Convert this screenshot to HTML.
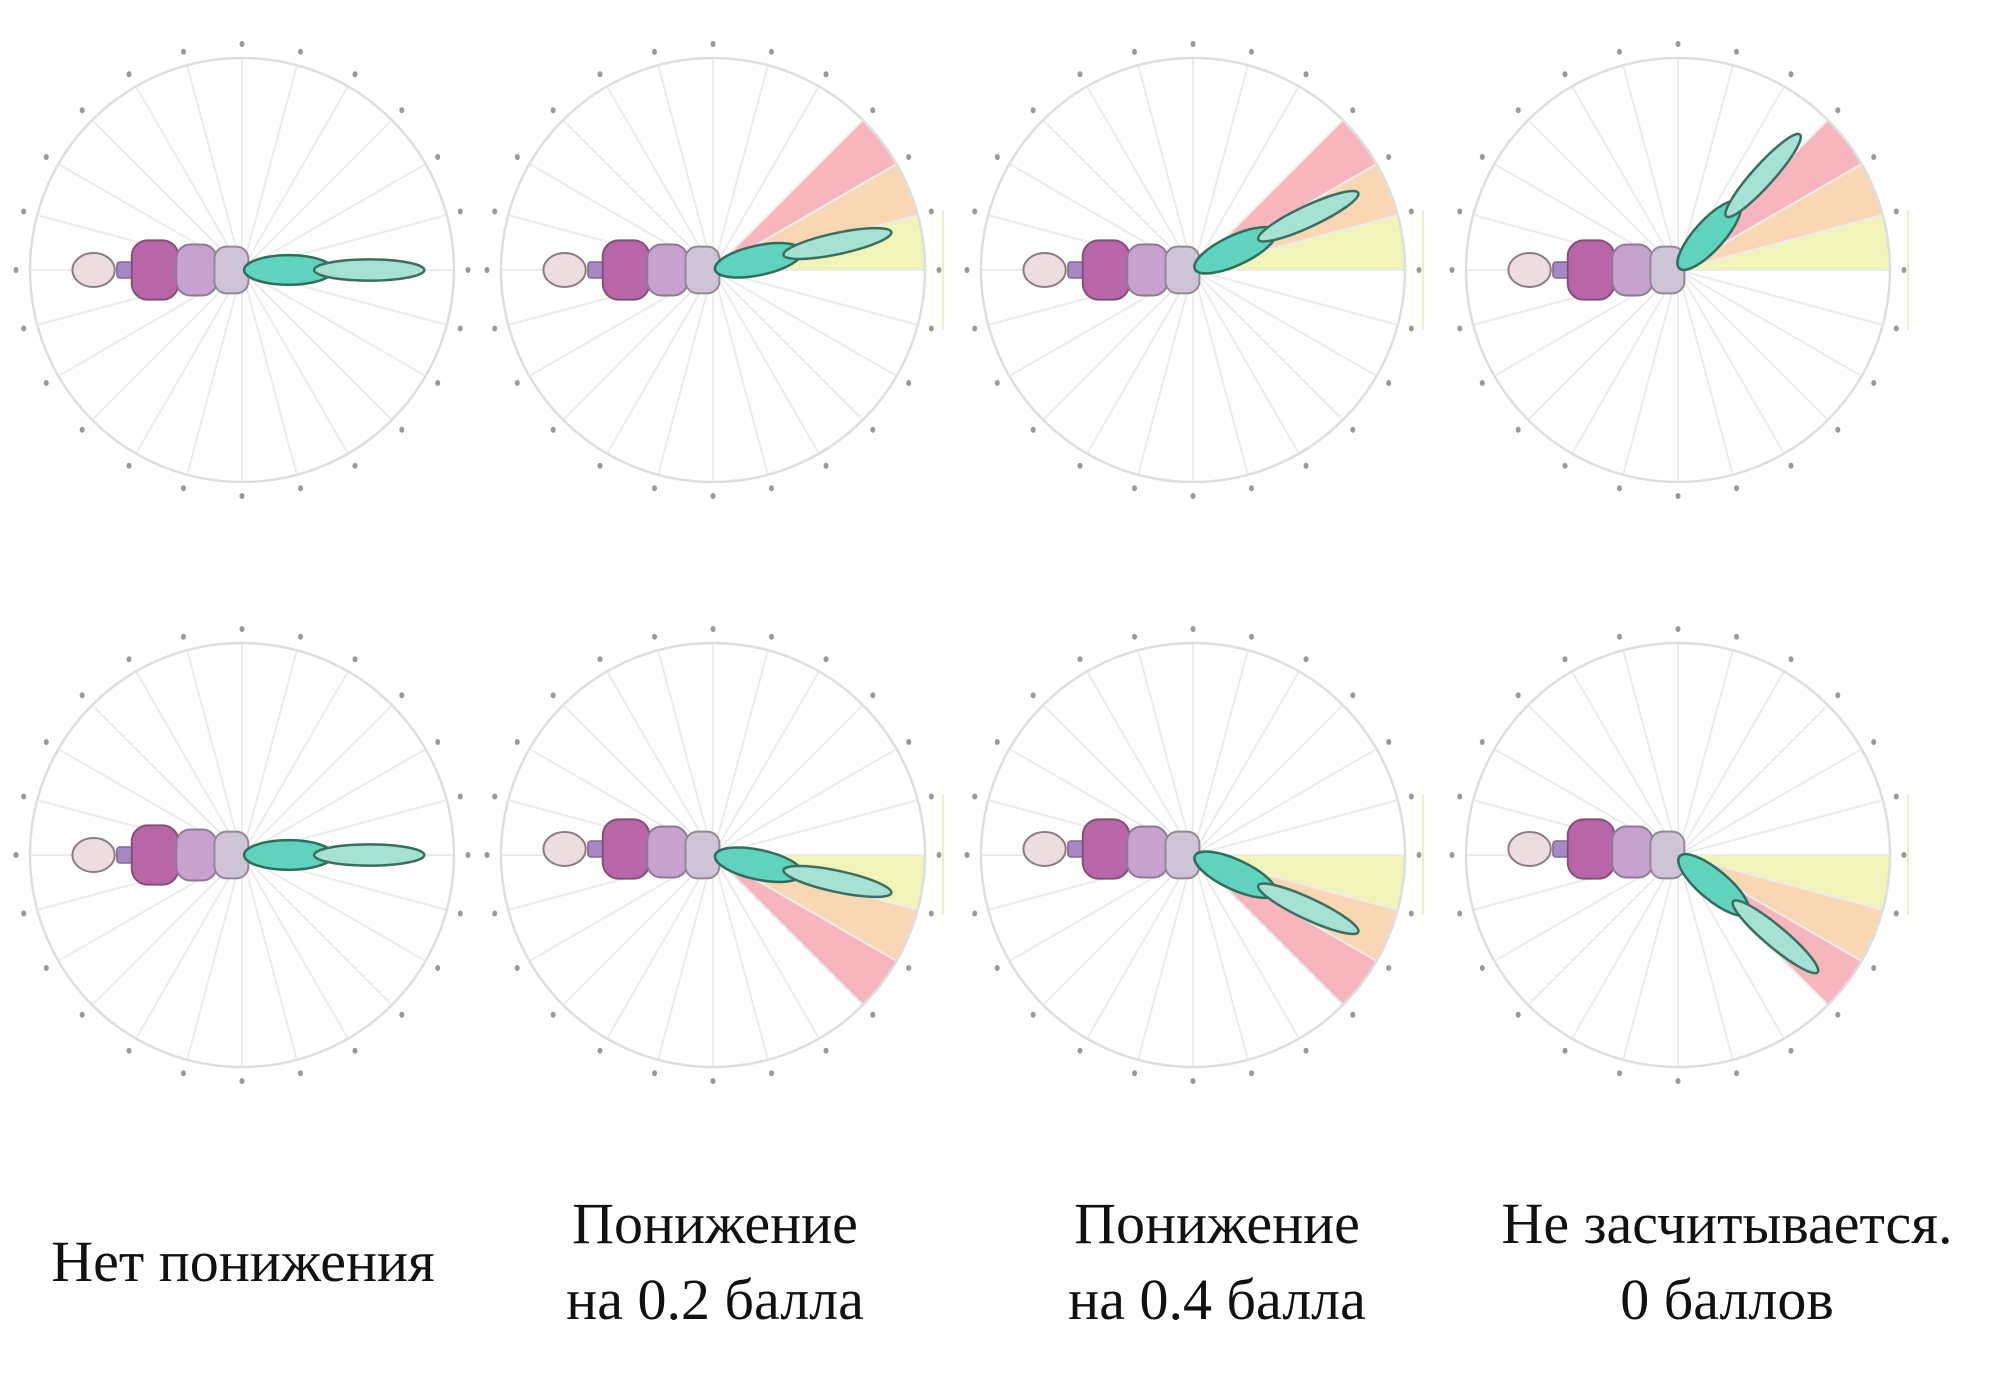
<!DOCTYPE html>
<html><head><meta charset="utf-8">
<style>
html,body{margin:0;padding:0;background:#fff;}
#wrap{position:relative;width:1996px;height:1375px;overflow:hidden;}
svg{position:absolute;left:0;top:0;}
.lab{position:absolute;font-family:"Liberation Serif",serif;font-size:58px;color:#111;text-align:center;line-height:76px;white-space:nowrap;transform:translateX(-50%);}
</style></head><body>
<div id="wrap">
<svg id="s" width="1996" height="1375" viewBox="0 0 1996 1375"></svg>
<div class="lab" style="left:243px;top:1224px;">Нет понижения</div>
<div class="lab" style="left:715px;top:1186px;">Понижение<br>на 0.2 балла</div>
<div class="lab" style="left:1217px;top:1186px;">Понижение<br>на 0.4 балла</div>
<div class="lab" style="left:1727px;top:1186px;">Не засчитывается.<br>0 баллов</div>
</div>
<script>
const s=document.getElementById('s');
const R=212;
const cols=[242,713,1193,1678], rows=[270,855];
const ang=[[0,12,25,48],[0,-12,-25,-40]];
let h='';
function rad(a){return a*Math.PI/180;}
function wedge(cx,cy,a1,a2,col){
  const x1=cx+R*Math.cos(rad(a1)),y1=cy-R*Math.sin(rad(a1));
  const x2=cx+R*Math.cos(rad(a2)),y2=cy-R*Math.sin(rad(a2));
  const sw=(a2>a1)?0:1;
  return `<path d="M${cx},${cy} L${x1},${y1} A${R},${R} 0 0 ${sw} ${x2},${y2} Z" fill="${col}"/>`;
}
for(let r=0;r<2;r++)for(let c=0;c<4;c++){
  const cx=cols[c],cy=rows[r],a=ang[r][c];
  if(c>0){
    const sg=r==0?1:-1;
    h+=wedge(cx,cy,0,15*sg,'#f1f3b8');
    h+=wedge(cx,cy,15*sg,30*sg,'#f9d7b5');
    h+=wedge(cx,cy,30*sg,45*sg,'#f7b5bd');
    h+=`<line x1="${cx+R+18}" y1="${cy-60}" x2="${cx+R+18}" y2="${cy+60}" stroke="#eef0c0" stroke-width="2"/>`;
  }
  for(let i=0;i<24;i++){
    const t=rad(i*15);
    h+=`<line x1="${cx}" y1="${cy}" x2="${cx+R*Math.cos(t)}" y2="${cy+R*Math.sin(t)}" stroke="#ececec" stroke-width="2"/>`;
    h+=`<ellipse cx="${cx+(R+14)*Math.cos(t)}" cy="${cy+(R+14)*Math.sin(t)}" rx="2.5" ry="3" fill="#999"/>`;
  }
  h+=`<circle cx="${cx}" cy="${cy}" r="${R}" fill="none" stroke="#dedede" stroke-width="2.5"/>`;
  const dy=r==1? (c>0?-6:0):0;
  h+=`<ellipse cx="${cx-0.70*R}" cy="${cy+dy}" rx="${0.1*R}" ry="${0.08*R}" fill="#ecdde0" stroke="#8a7b85" stroke-width="2"/>`;
  h+=`<rect x="${cx-0.59*R}" y="${cy+dy-8}" width="16" height="16" rx="3" fill="#a688c4" stroke="#7d6a90" stroke-width="1.5"/>`;
  h+=`<rect x="${cx-0.52*R}" y="${cy+dy-0.14*R}" width="${0.22*R}" height="${0.28*R}" rx="16" fill="#b966a8" stroke="#845078" stroke-width="2"/>`;
  h+=`<rect x="${cx-0.31*R}" y="${cy+dy*0.5-0.12*R}" width="${0.19*R}" height="${0.24*R}" rx="14" fill="#c6a2cf" stroke="#907898" stroke-width="2"/>`;
  h+=`<rect x="${cx-0.13*R}" y="${cy-0.11*R}" width="${0.16*R}" height="${0.22*R}" rx="12" fill="#cfc3d6" stroke="#928898" stroke-width="2"/>`;
  h+=`<g transform="translate(${cx},${cy}) rotate(${-a})">`+
     `<ellipse cx="${0.22*R}" cy="0" rx="${0.21*R}" ry="${0.07*R}" fill="#5fd3bd" stroke="#2f6e5e" stroke-width="2.5"/>`+
     `<ellipse cx="${0.60*R}" cy="0" rx="${0.26*R}" ry="${0.05*R}" fill="#a6e2d3" stroke="#3c6e60" stroke-width="2.5"/></g>`;
}
s.innerHTML=h;
</script>
</body></html>
